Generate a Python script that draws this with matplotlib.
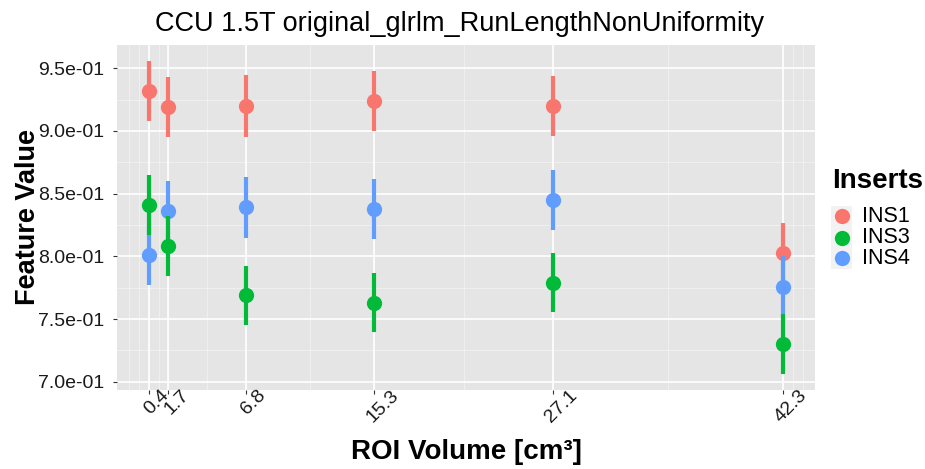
import matplotlib
matplotlib.use("Agg")
import matplotlib.pyplot as plt
import matplotlib.transforms as mtransforms
from matplotlib.lines import Line2D
from matplotlib.patches import Rectangle
import numpy as np

plt.rcParams['font.family'] = ['Liberation Sans', 'DejaVu Sans']

# ROI volumes (cm^3) and feature values per insert
volumes = [0.4, 1.7, 6.8, 15.3, 27.1, 42.3]
volume_labels = ["0.4", "1.7", "6.8", "15.3", "27.1", "42.3"]

ins1_mean = [0.932, 0.919, 0.920, 0.924, 0.920, 0.803]
ins1_sd = [0.024, 0.024, 0.0245, 0.024, 0.024, 0.024]
ins3_mean = [0.841, 0.808, 0.769, 0.763, 0.779, 0.730]
ins3_sd = [0.0237, 0.024, 0.0237, 0.0236, 0.0235, 0.024]
ins4_mean = [0.801, 0.836, 0.839, 0.838, 0.845, 0.776]
ins4_sd = [0.024, 0.024, 0.024, 0.024, 0.024, 0.024]

series_names = ["INS1", "INS3", "INS4"]
series_colors = ["#F8766D", "#00BA38", "#619CFF"]

y_ticks = [0.70, 0.75, 0.80, 0.85, 0.90, 0.95]
y_tick_labels = ["7.0e-01", "7.5e-01", "8.0e-01", "8.5e-01", "9.0e-01", "9.5e-01"]

W, H = 925, 469
fig = plt.figure(figsize=(W / 100, H / 100), dpi=100)
ax = fig.add_axes([117 / W, 1 - 390 / H, (815 - 117) / W, (390 - 45) / H])
ax.set_facecolor("#E5E5E5")
for s in ax.spines.values():
    s.set_visible(False)

means = [ins1_mean, ins3_mean, ins4_mean]
sds = [ins1_sd, ins3_sd, ins4_sd]
draw_z = [3, 5, 4]
for name, col, m, sd, z in zip(series_names, series_colors, means, sds, draw_z):
    m = np.asarray(m)
    sd = np.asarray(sd)
    ax.vlines(volumes, m - sd, m + sd, colors=col, linewidth=3.0, zorder=z,
              capstyle="butt")
    ax.plot(volumes, m, "o", color=col, markersize=11, markeredgewidth=0,
            zorder=z + 0.5)

# limits with 5% expansion like ggplot
xr = max(volumes) - min(volumes)
ax.set_xlim(min(volumes) - 0.05 * xr, max(volumes) + 0.05 * xr)
lo = min(np.min(np.asarray(m) - np.asarray(s)) for m, s in zip(means, sds))
hi = max(np.max(np.asarray(m) + np.asarray(s)) for m, s in zip(means, sds))
yr = hi - lo
ax.set_ylim(lo - 0.05 * yr, hi + 0.05 * yr)

# minor breaks: midpoints of major breaks, extended by the first break gap
b = list(volumes)
gap = b[1] - b[0]
ext = [b[0] - gap] + b + [b[-1] + gap]
x_minor = []
for a, c in zip(ext[:-1], ext[1:]):
    x_minor += [a, (a + c) / 2]
x_minor.append(ext[-1])
x0, x1 = ax.get_xlim()
x_minor = [v for v in x_minor if x0 <= v <= x1]
y_minor = [0.725, 0.775, 0.825, 0.875, 0.925]

for v in x_minor:
    ax.axvline(v, color="#F2F2F2", linewidth=0.6, zorder=0.5)
for v in y_minor:
    ax.axhline(v, color="#F2F2F2", linewidth=0.6, zorder=0.5)
for v in volumes:
    ax.axvline(v, color="white", linewidth=1.2, zorder=1)
for v in y_ticks:
    ax.axhline(v, color="white", linewidth=1.2, zorder=1)

ax.set_yticks(y_ticks)
ax.set_yticklabels(y_tick_labels, fontsize=14, color="#1A1A1A")
ax.set_xticks(volumes)
ax.set_xticklabels(volume_labels, fontsize=14, color="#1A1A1A", rotation=45,
                   ha="center", va="top")
ax.tick_params(axis="both", which="major", length=3, width=0.8,
               color="#333333")
ax.tick_params(axis="y", pad=6)
ax.tick_params(axis="x", pad=1)
offset = mtransforms.ScaledTranslation(8 / 100, 9 / 100, fig.dpi_scale_trans)
for lab in ax.get_xticklabels():
    lab.set_transform(lab.get_transform() + offset)

fig.text(459.5 / W, 1 - 24 / H, "CCU 1.5T original_glrlm_RunLengthNonUniformity",
         fontsize=19.5, ha="center", va="center", color="black")
fig.text(28 / W, 1 - 217 / H, "Feature Value", fontsize=19.5, fontweight="bold",
         rotation=90, ha="center", va="center")
fig.text(466 / W, 1 - 452 / H, "ROI Volume [cm³]", fontsize=20,
         fontweight="bold", ha="center", va="center")

# legend
fig.text(832 / W, 1 - 181 / H, "Inserts", fontsize=20, fontweight="bold",
         ha="left", va="center")
key_h = 21
key_top = 206
for i, (name, col) in enumerate(zip(series_names, series_colors)):
    yt = key_top + i * key_h
    fig.patches.append(Rectangle((831 / W, 1 - (yt + key_h) / H), 21 / W,
                                 key_h / H, transform=fig.transFigure,
                                 facecolor="#F2F2F2", edgecolor="none"))
    yc = 1 - (yt + key_h / 2) / H
    fig.lines.append(Line2D([841.5 / W], [yc], transform=fig.transFigure,
                            marker="o", markersize=11, markeredgewidth=0,
                            color=col, linestyle="none"))
    fig.text(862 / W, yc, name, fontsize=15.5, ha="left", va="center")

fig.savefig("out.png", dpi=100, facecolor="white")
